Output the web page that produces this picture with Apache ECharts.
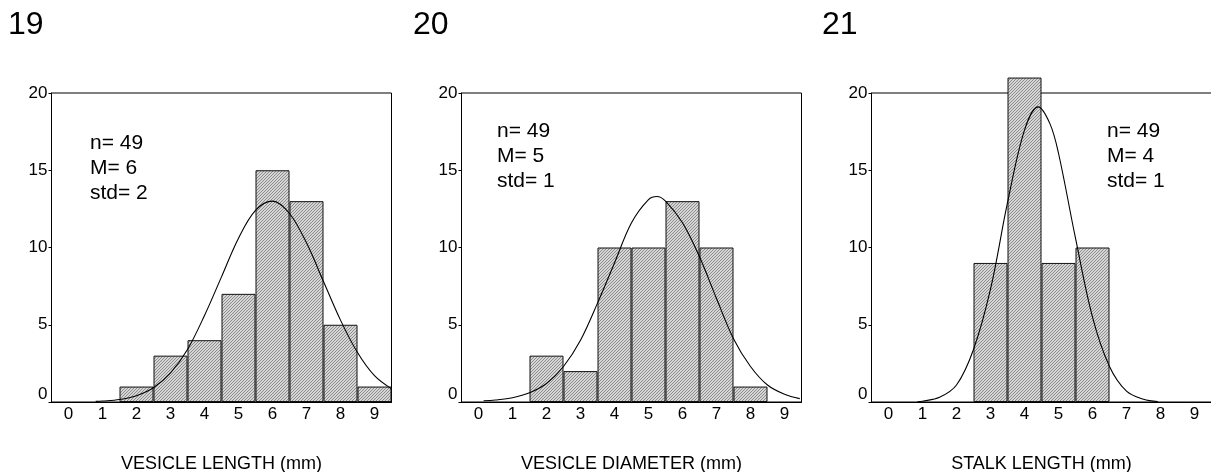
<!DOCTYPE html>
<html>
<head>
<meta charset="utf-8">
<script src="https://cdn.jsdelivr.net/npm/echarts@6/dist/echarts.min.js"></script>
<style>
html,body{margin:0;padding:0;background:#fff;}
#chart{width:1211px;height:472px;}
</style>
</head>
<body>
<div id="chart"></div>
<script>
// ---- data ----
const categories = ['0','1','2','3','4','5','6','7','8','9'];
const panelTitles = ['19','20','21'];
const axisNames = ['VESICLE LENGTH (mm)','VESICLE DIAMETER (mm)','STALK LENGTH (mm)'];
const statsTexts = ['n= 49\nM= 6\nstd= 2','n= 49\nM= 5\nstd= 1','n= 49\nM= 4\nstd= 1'];

const vesicleLengthCounts   = [0,0,1,3,4,7,15,13,5,1];
const vesicleDiameterCounts = [0,0,3,2,10,10,13,10,1,0];
const stalkLengthCounts     = [0,0,0,9,21,9,10,0,0,0];

const lengthCurveX = [0.8,1,1.5,2,2.5,3,3.5,4,4.5,5,5.5,6,6.5,7,7.5,8,8.5,9,9.5];
const lengthCurveY = [0.04,0.06,0.16,0.41,0.92,1.88,3.4,5.6,8.1,10.6,12.4,13.0,12.2,10.3,7.8,5.3,3.2,1.7,0.85];

const diameterCurveX = [0.15,0.5,1,1.5,2,2.5,3,3.5,4,4.5,5,5.25,5.5,6,6.5,7,7.5,8,8.5,9,9.45];
const diameterCurveY = [0.08,0.13,0.28,0.6,1.2,2.3,4.0,6.4,9.0,11.6,13.1,13.3,13.0,11.6,9.4,6.7,4.1,2.3,1.1,0.5,0.22];

const stalkCurveX = [0.85,1,1.5,2,2.5,3,3.5,4,4.4,4.75,5,5.5,6,6.5,7,7.5,7.92];
const stalkCurveY = [0.02,0.05,0.3,1.1,3.4,7.3,12.9,17.6,19.1,18.0,16.1,10.6,5.5,2.3,0.7,0.18,0.03];

const yMin = 0, yMax = 20, yStep = 5;
const xMin = -0.5, xMax = 9.5;

// ---- build ----
const FONT = 'Liberation Sans, Arial, sans-serif';
const counts = [vesicleLengthCounts, vesicleDiameterCounts, stalkLengthCounts];
const curves = [[lengthCurveX,lengthCurveY],[diameterCurveX,diameterCurveY],[stalkCurveX,stalkCurveY]];

// hatched pattern
const pat = document.createElement('canvas');
pat.width = 3; pat.height = 3;
const pc = pat.getContext('2d');
pc.fillStyle = '#d6d6d6'; pc.fillRect(0,0,3,3);
pc.fillStyle = '#8c8c8c';
for (let i=0;i<3;i++){ pc.fillRect(i,2-i,1,1); }

const gridLefts = [51.5, 461.5, 871.5];
const textPos = [[90,131],[497,119],[1107,119]];
const titleX = [8, 413, 822];

const grids = [], xAxes = [], yAxes = [], series = [], graphics = [];
for (let i=0;i<3;i++){
  grids.push({left:gridLefts[i], top:93, width:340, height:309, show:true,
    borderColor:'#000', borderWidth:1, backgroundColor:'transparent',
    containLabel:false, outerBoundsMode:'none'});
  xAxes.push({type:'category', gridIndex:i, data:categories, boundaryGap:true,
    axisLine:{onZero:false, lineStyle:{color:'#000',width:1}},
    axisTick:{alignWithLabel:true, length:3, lineStyle:{color:'#000'}},
    axisLabel:{color:'#000', fontSize:17, fontFamily:FONT, margin:4},
    splitLine:{show:false},
    name:axisNames[i], nameLocation:'middle', nameGap:53,
    nameTextStyle:{color:'#000', fontSize:18, fontFamily:FONT}});
  xAxes.push({type:'value', gridIndex:i, min:xMin, max:xMax, show:false});
  yAxes.push({type:'value', gridIndex:i, min:yMin, max:yMax, interval:yStep,
    axisLine:{show:true, onZero:false, lineStyle:{color:'#000',width:1}},
    axisTick:{show:true, length:3, lineStyle:{color:'#000'}},
    axisLabel:{color:'#000', fontSize:17, fontFamily:FONT, margin:4,
      formatter:function(v){ return v===0 ? '{z|0}' : String(v); },
      rich:{z:{fontSize:17, fontFamily:FONT, color:'#000', padding:[0,0,16,0]}}},
    splitLine:{show:false}});
  series.push({type:'bar', xAxisIndex:2*i, yAxisIndex:i,
    data:counts[i].map(v=> v>0 ? v : null),
    barCategoryGap:'0%', clip:false,
    itemStyle:{color:{image:pat, repeat:'repeat'}, borderColor:'#111', borderWidth:1},
    emphasis:{disabled:true}, z:2});
  series.push({type:'line', xAxisIndex:2*i+1, yAxisIndex:i,
    data:curves[i][0].map((x,k)=>[x, curves[i][1][k]]),
    smooth:0.35, symbol:'none', lineStyle:{color:'#000', width:1.1},
    emphasis:{disabled:true}, z:3});
  graphics.push({type:'text', x:textPos[i][0], y:textPos[i][1],
    style:{text:statsTexts[i], font:'21px ' + FONT, lineHeight:25, fill:'#000'}});
  graphics.push({type:'text', x:titleX[i], y:25,
    style:{text:panelTitles[i], font:'32px ' + FONT, fill:'#000', verticalAlign:'middle'}});
}

const chart = echarts.init(document.getElementById('chart'), null, {renderer:'canvas'});
chart.setOption({
  animation:false,
  backgroundColor:'#fff',
  grid:grids, xAxis:xAxes, yAxis:yAxes, series:series, graphic:graphics
});
</script>
</body>
</html>
